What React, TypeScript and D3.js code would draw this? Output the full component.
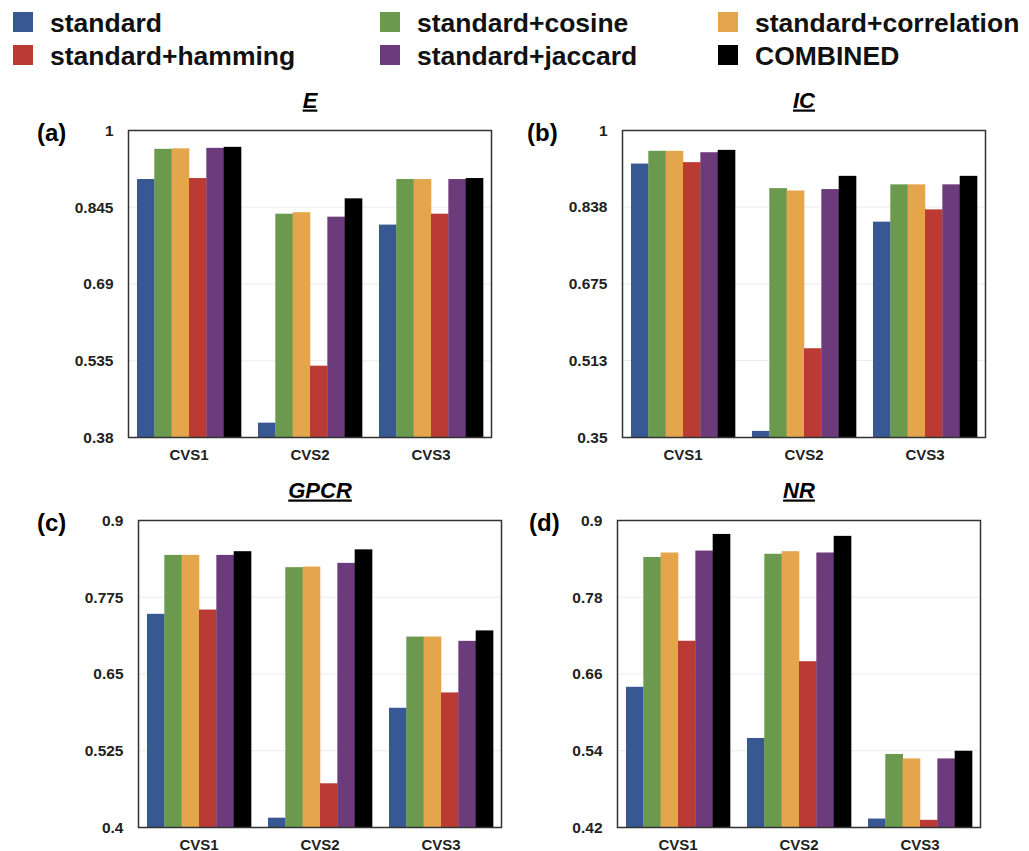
import React from "react";
import * as d3 from "d3";

const categories = ["CVS1", "CVS2", "CVS3"];
const seriesNames = [
  "standard",
  "standard+cosine",
  "standard+correlation",
  "standard+hamming",
  "standard+jaccard",
  "COMBINED",
];
// bar order inside each group: standard, cosine, correlation, hamming, jaccard, combined
const colors = ["#385894", "#6b9a4f", "#e4a54d", "#b93b34", "#6c3b7b", "#000000"];

// values per series: [CVS1, CVS2, CVS3]
const eValues = [
  [0.902, 0.41, 0.81],
  [0.963, 0.832, 0.902],
  [0.964, 0.835, 0.902],
  [0.904, 0.525, 0.832],
  [0.965, 0.826, 0.902],
  [0.967, 0.863, 0.904],
];
const icValues = [
  [0.93, 0.364, 0.807],
  [0.957, 0.878, 0.886],
  [0.957, 0.873, 0.886],
  [0.933, 0.539, 0.833],
  [0.954, 0.876, 0.886],
  [0.959, 0.904, 0.904],
];
const gpcrValues = [
  [0.748, 0.416, 0.595],
  [0.844, 0.824, 0.711],
  [0.844, 0.825, 0.711],
  [0.755, 0.472, 0.62],
  [0.844, 0.831, 0.704],
  [0.85, 0.853, 0.721],
];
const nrValues = [
  [0.64, 0.56, 0.434],
  [0.843, 0.848, 0.535],
  [0.85, 0.852, 0.528],
  [0.712, 0.68, 0.432],
  [0.853, 0.85, 0.528],
  [0.879, 0.876, 0.54],
];

const eTicks = ["0.38", "0.535", "0.69", "0.845", "1"];
const icTicks = ["0.35", "0.513", "0.675", "0.838", "1"];
const gpcrTicks = ["0.4", "0.525", "0.65", "0.775", "0.9"];
const nrTicks = ["0.42", "0.54", "0.66", "0.78", "0.9"];

const font = "'Liberation Sans', Arial, Helvetica, sans-serif";

const W = 363;
const H = 307;

const panels = [
  { letter: "(a)", title: "E", x: 128.5, y: 130.5, ticks: eTicks, values: eValues, lx: 37 },
  { letter: "(b)", title: "IC", x: 622.5, y: 130.5, ticks: icTicks, values: icValues, lx: 527 },
  { letter: "(c)", title: "GPCR", x: 138.5, y: 520.5, ticks: gpcrTicks, values: gpcrValues, lx: 37 },
  { letter: "(d)", title: "NR", x: 617.5, y: 520.5, ticks: nrTicks, values: nrValues, lx: 529 },
];

// legend is column-major: standard/hamming, cosine/jaccard, correlation/combined
const legendCols = [13, 380, 718];
const legendOrder = [
  [0, 3],
  [1, 4],
  [2, 5],
];

const Panel = ({ p }: any) => {
  const tickNums = p.ticks.map(Number);
  const y = d3.scaleLinear().domain([tickNums[0], tickNums[tickNums.length - 1]]).range([H, 0]);
  const x0 = d3.scaleBand().domain(categories).range([0, W]).paddingInner(0.14).paddingOuter(0.07);
  const x1 = d3.scaleBand().domain(d3.range(seriesNames.length).map(String)).range([0, x0.bandwidth()]);

  return (
    <g transform={`translate(${p.x},${p.y})`}>
      <text
        x={W / 2}
        y={-23}
        textAnchor="middle"
        fontSize={22}
        fontWeight="bold"
        fontStyle="italic"
        style={{ textDecoration: "underline" }}
      >
        {p.title}
      </text>
      <text x={p.lx - p.x} y={10} fontSize={24} fontWeight="bold">
        {p.letter}
      </text>
      {tickNums.slice(1, -1).map((t) => (
        <line key={t} x1={0} x2={W} y1={y(t)} y2={y(t)} stroke="#ececec" strokeWidth={1.2} />
      ))}
      {p.values.map((vals: number[], si: number) =>
        categories.map((c, ci) => (
          <rect
            key={si + c}
            x={x0(c)! + x1(String(si))!}
            y={y(vals[ci])}
            width={x1.bandwidth() + 0.3}
            height={H - y(vals[ci])}
            fill={colors[si]}
          />
        ))
      )}
      <rect x={0} y={0} width={W} height={H} fill="none" stroke="#333" strokeWidth={1.5} />
      {p.ticks.map((t: string, i: number) => (
        <text key={t} x={-15} y={y(tickNums[i])} dy="0.35em" textAnchor="end" fontSize={15.5} fontWeight="bold" fill="#222">
          {t}
        </text>
      ))}
      {categories.map((c) => (
        <text key={c} x={x0(c)! + x0.bandwidth() / 2} y={H + 22} textAnchor="middle" fontSize={15} fontWeight="bold" fill="#222">
          {c}
        </text>
      ))}
    </g>
  );
};

export default function App() {
  return (
    <svg
      width={1029}
      height={851}
      style={{ position: "absolute", left: 0, top: 0, background: "#fff", fontFamily: font }}
    >
      <rect width={1029} height={851} fill="#fff" />
      {legendOrder.map((pair, col) =>
        pair.map((si, row) => (
          <g key={si} transform={`translate(${legendCols[col]},${row === 0 ? 12 : 45})`}>
            <rect width={20} height={20} fill={colors[si]} />
            <text x={37} y={20} fontSize={26.5} fontWeight="bold" fill="#111">
              {seriesNames[si]}
            </text>
          </g>
        ))
      )}
      {panels.map((p) => (
        <Panel key={p.letter} p={p} />
      ))}
    </svg>
  );
}
